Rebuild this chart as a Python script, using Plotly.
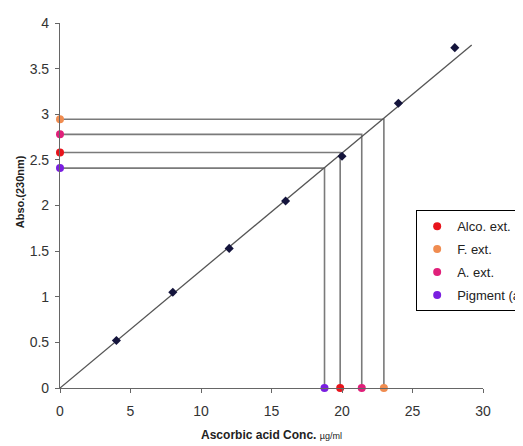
import plotly.graph_objects as go

# Standard curve (ascorbic acid)
std_conc = [4, 8, 12, 16, 20, 24, 28]
std_abs = [0.52, 1.05, 1.53, 2.05, 2.54, 3.12, 3.73]

# Linear trendline end points
trend_x = [0, 29.2]
trend_y = [0, 3.76]

# Samples
sample_names = ["Alco. ext.", "F. ext.", "A. ext.", "Pigment (a)"]
sample_abs = [2.58, 2.945, 2.78, 2.41]
sample_conc = [19.87, 22.97, 21.4, 18.76]
sample_colors = ["#e8141c", "#f08c50", "#e0207a", "#7a1ee0"]

FONT = "Liberation Sans, Arial"
GUIDE = "#7a7a7a"

fig = go.Figure()

# guide lines (horizontal + vertical) for each sample
gx, gy = [], []
for c, a in zip(sample_conc, sample_abs):
    gx += [0, c, c, None]
    gy += [a, a, 0, None]
fig.add_trace(go.Scatter(x=gx, y=gy, mode="lines", line=dict(color=GUIDE, width=1.6),
                         showlegend=False, hoverinfo="skip", cliponaxis=False))

# trendline
fig.add_trace(go.Scatter(x=trend_x, y=trend_y, mode="lines", line=dict(color="#555555", width=1.3),
                         showlegend=False, hoverinfo="skip", cliponaxis=False))

# standard points
fig.add_trace(go.Scatter(x=std_conc, y=std_abs, mode="markers",
                         marker=dict(symbol="diamond", size=7, color="#14143c"),
                         showlegend=False, cliponaxis=False))

# sample points on both axes
for n, a, c, col in zip(sample_names, sample_abs, sample_conc, sample_colors):
    fig.add_trace(go.Scatter(x=[0, c], y=[a, 0], mode="markers", name=n, legendgroup=n,
                             marker=dict(symbol="circle", size=8, color=col),
                             cliponaxis=False))

fig.update_layout(
    width=515, height=438,
    margin=dict(l=52, r=40, t=15, b=58, autoexpand=False),
    paper_bgcolor="white", plot_bgcolor="white",
    font=dict(family=FONT, size=14, color="#333333"),
    legend=dict(x=0.842, y=0.487, xanchor="left", yanchor="top",
                bordercolor="black", borderwidth=1, bgcolor="white",
                font=dict(family=FONT, size=13, color="#222222"),
                itemwidth=30, tracegroupgap=3),
    xaxis=dict(range=[0, 30], tickvals=[0, 5, 10, 15, 20, 25, 30],
               showgrid=False, zeroline=False, showline=True, linecolor="#666666", linewidth=1.2,
               ticks="outside", ticklen=4, tickcolor="#666666", ticklabelstandoff=6,
               title=dict(text="<b>Ascorbic acid Conc.</b> <span style='font-size:9px'>µg/ml</span>",
                          font=dict(family=FONT, size=12, color="#222222"),
                          standoff=12)),
    yaxis=dict(range=[0, 4], tickvals=[0, 0.5, 1, 1.5, 2, 2.5, 3, 3.5, 4],
               ticktext=["0", "0.5", "1", "1.5", "2", "2.5", "3", "3.5", "4"],
               showgrid=False, zeroline=False, showline=True, linecolor="#666666", linewidth=1.2,
               ticks="outside", ticklen=4, tickcolor="#666666", ticklabelstandoff=3),
    annotations=[dict(text="<b>Abso.(230nm)</b>", textangle=-90, showarrow=False,
                      xref="paper", yref="paper", x=-0.0946, y=0.539,
                      xanchor="center", yanchor="middle",
                      font=dict(family=FONT, size=11, color="#222222"))],
)

fig.write_html("out.html")
